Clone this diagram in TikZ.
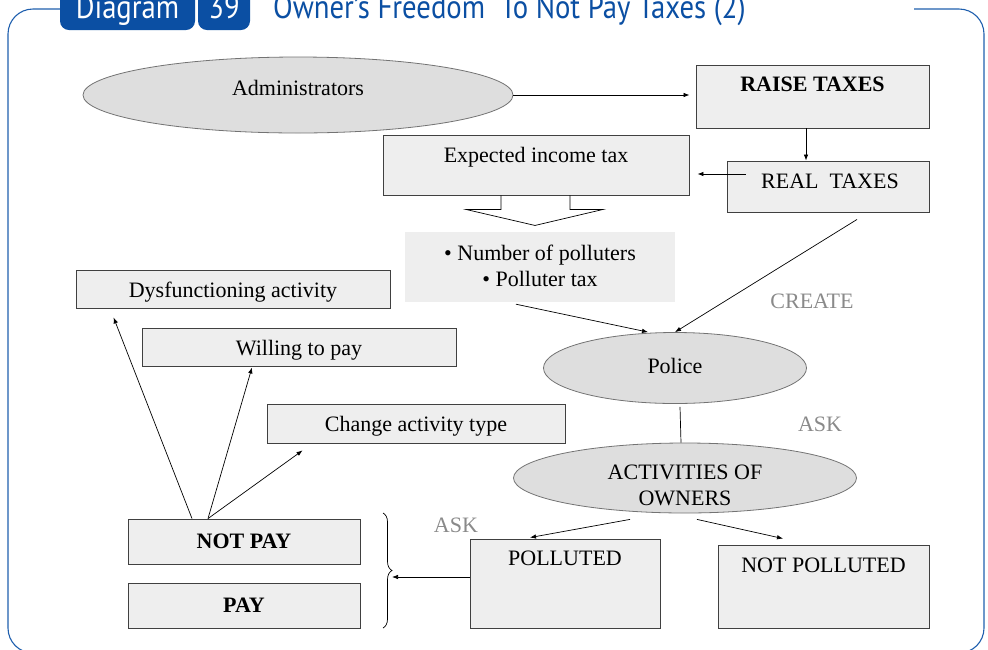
\documentclass[tikz,border=0pt]{standalone}
\usepackage{fontspec}
\setmainfont{Liberation Serif}
\newfontfamily\titlefont{PT Sans}[FakeStretch=0.87]
\usepackage{tikz}
\usetikzlibrary{arrows.meta}
\usetikzlibrary{shapes.geometric, decorations.pathreplacing}
\definecolor{framblue}{HTML}{1F5FAE}
\definecolor{badgeblue}{HTML}{0B4FA3}
\definecolor{boxgray}{HTML}{EEEEEE}
\definecolor{ovalgray}{HTML}{DEDEDE}
\definecolor{labelgray}{HTML}{8A8A8A}

\begin{document}
\begin{tikzpicture}[x=1pt, y=-1pt,
    every node/.style={font=\fontsize{22}{26}\selectfont},
    box/.style={draw=black!75, line width=0.9pt, fill=boxgray, inner sep=0pt},
    midbox/.style={box, text height=17pt, text depth=1pt},
    oval/.style={draw=black!55, line width=0.8pt, fill=ovalgray, ellipse, inner sep=0pt},
    conn/.style={line width=0.7pt},
    arr/.style={conn, -{Latex[length=6pt, width=4.5pt]}},
    graytext/.style={text=labelgray},
    titletext/.style={font=\titlefont\fontsize{33}{35}\selectfont},
    badge/.style={titletext, fill=badgeblue, rounded corners=9pt, inner sep=0pt, text=white,
        text height=40pt, text depth=11.5pt}]
    \useasboundingbox (0,0) rectangle (988,649);

    % frame and title
    \draw[framblue, line width=1.1pt, rounded corners=25pt] (60,9) -- (8,9) -- (8,653) -- (984,653) -- (984,9) -- (914,9);
    \draw (127.5,4.25) node[badge, minimum width=135pt]           (badgediag) {Diagram};
    \draw (224,4.25) node[badge, minimum width=52pt]              (badgenum) {39};
    \draw (273,18) node[titletext, anchor=base west, inner sep=0pt, text=badgeblue] (title) {Owner’s Freedom\ \ To Not Pay Taxes (2)};

    % top part
    \draw (298,95) node[oval, minimum width=430pt, minimum height=76pt, text height=12pt, text depth=12pt] (admin) {Administrators};
    \draw (812.5,96.5) node[box, minimum width=233pt, text height=26.5pt, text depth=36.5pt] (raise) {\textbf{RAISE TAXES}};
    \draw (828,186.5) node[box, minimum width=202pt, text height=27.5pt, text depth=23.5pt] (realtax) {\hspace{4pt}REAL\ \ TAXES};
    \draw (536,165) node[box, minimum width=306pt, text height=27pt, text depth=33pt] (expected) {Expected income tax};
    \draw (540,267) node[fill=boxgray, minimum width=270pt, minimum height=70pt, align=center, inner sep=0pt, yshift=0pt] (bullets) {\raisebox{3pt}{• Number of polluters}\\ \raisebox{3pt}{• Polluter tax}};
    \draw (812,301) node[graytext]                                (create) {CREATE};

    % middle part
    \draw (675,368) node[oval, minimum width=263pt, minimum height=71pt, text height=15pt, text depth=5pt] (police) {Police};
    \draw (820,424) node[graytext]                                (askright) {ASK};
    \draw (685,478) node[oval, minimum width=343pt, minimum height=70pt,
        label={[align=center, yshift=-7pt]center:ACTIVITIES OF\\ OWNERS}] (activities) {};

    % left part
    \draw (233,289) node[midbox, minimum width=314pt, minimum height=38pt] (dysfunc) {Dysfunctioning activity};
    \draw (299,347) node[midbox, minimum width=314pt, minimum height=38pt] (willing) {Willing to pay};
    \draw (416,423.5) node[midbox, minimum width=298pt, minimum height=39pt] (change) {Change activity type};
    \draw (244,541.5) node[box, minimum width=232pt, minimum height=45pt] (notpay) {\textbf{NOT PAY}};
    \draw (244,605.5) node[box, minimum width=232pt, minimum height=45pt] (pay) {\textbf{PAY}};

    % bottom part
    \draw (456,525) node[graytext]                                (askleft) {ASK};
    \draw (565,583.5) node[box, minimum width=190pt, text height=26.5pt, text depth=62.5pt] (polluted) {POLLUTED};
    \draw (823.5,586.5) node[box, minimum width=211pt, text height=27.5pt, text depth=55.5pt] (notpolluted) {NOT POLLUTED};
    \coordinate (bracetop) at (383,513);
    \coordinate (bracebot) at (383,628);
    \coordinate (bracetip) at (392,577);
    \draw[conn, decorate, decoration={brace, amplitude=9pt}] (bracetop) -- (bracebot);

    % connectors
    \draw[arr, shorten >=6pt] (admin.east) -- (raise.west |- admin.east);
    \draw[arr] ([xshift=-6.5]raise.south) -- ([xshift=-6.5]raise.south |- realtax.north);
    \coordinate (realstart) at ([shift={(19,-12.5)}]realtax.west);
    \draw[arr, shorten >=8pt] (realstart) -- (expected.east |- realstart);
    \draw[conn] ([xshift=-35]expected.south) -- ++(0,14) -- ++(-35,0) -- ++(69,16) -- ++(68,-16) -- ++(-33,0) -- ++(0,-14);
    \draw[arr] ([shift={(-24,2)}]bullets.south) -- ([xshift=-27]police.north);
    \draw[arr] ([shift={(29,7)}]realtax.south) -- (police.north);
    \draw[conn] ([shift={(5,3)}]police.south) -- ([xshift=-4]activities.north);
    \draw[arr] ([shift={(-55,6)}]activities.south) -- ([shift={(-35,-1)}]polluted.north);
    \draw[arr] ([shift={(12,6)}]activities.south) -- ([shift={(-40.5,-6)}]notpolluted.north);
    \draw[arr] (polluted.west |- bracetip) -- (bracetip);
    \draw[arr] ([xshift=-52]notpay.north) -- ([shift={(38,9)}]dysfunc.south west);
    \draw[arr] ([xshift=-36]notpay.north) -- ([shift={(-47,1)}]willing.south);
    \draw[arr] ([xshift=-36]notpay.north) -- ([shift={(36,7)}]change.south west);
\end{tikzpicture}
\end{document}
